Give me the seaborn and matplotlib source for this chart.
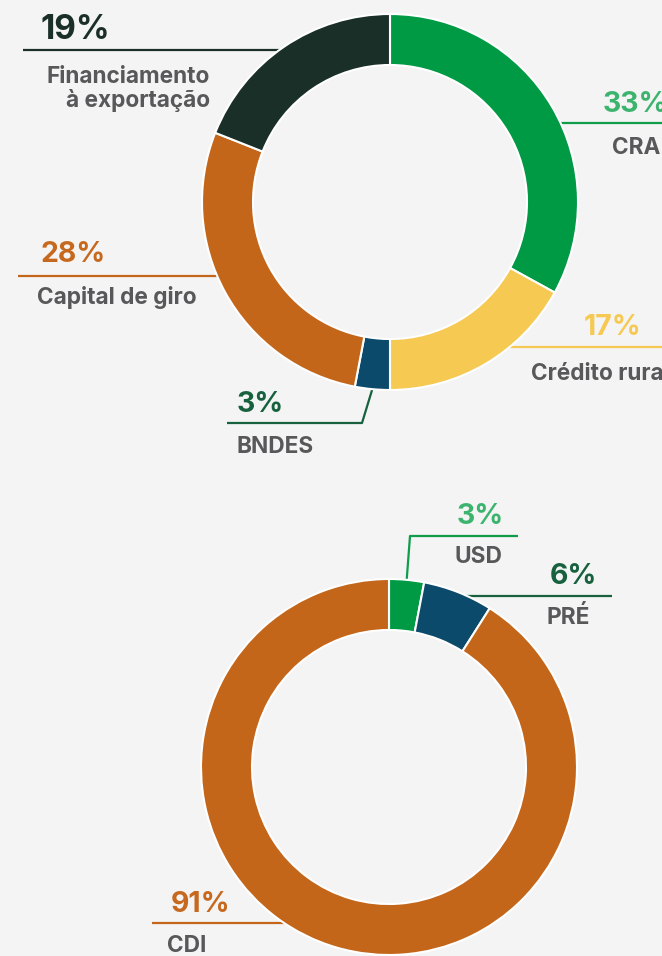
import matplotlib
matplotlib.use("Agg")
import matplotlib.pyplot as plt
import seaborn as sns
import numpy as np

# ---- data -------------------------------------------------------------
top_labels = ["CRA", "Crédito rural", "BNDES", "Capital de giro", "Financiamento\nà exportação"]
top_values = [33, 17, 3, 28, 19]
top_colors = ["#009a44", "#f6c952", "#0b4a6a", "#c4661a", "#1b2f29"]

bottom_labels = ["USD", "PRÉ", "CDI"]
bottom_values = [3, 6, 91]
bottom_colors = ["#009a44", "#0b4a6a", "#c4661a"]

# ---- style ------------------------------------------------------------
W, H = 662, 956
BG = "#f4f4f4"
NAME_COLOR = "#58585a"

sns.set_theme(style="white")
plt.rcParams["font.family"] = ["Inter", "DejaVu Sans"]

fig = plt.figure(figsize=(W / 100, H / 100), dpi=100, facecolor=BG)
ax = fig.add_axes([0, 0, 1, 1])
ax.set_facecolor(BG)

R = 188
RING = 51
top_center = (390, H - 202)
bot_center = (389, H - 767)


def donut(values, colors, center):
    ax.pie(values, colors=colors, startangle=90, counterclock=False,
           center=center, radius=R, frame=False,
           wedgeprops=dict(width=RING, edgecolor="white", linewidth=1.5))


def mid_point(values, i, center):
    frac = (sum(values[:i]) + values[i] / 2) / sum(values)
    ang = np.deg2rad(90 - 360 * frac)
    return center[0] + R * np.cos(ang), center[1] + R * np.sin(ang)


def ring_x(center, y, side):
    dy = y - center[1]
    return center[0] + side * (np.sqrt(R ** 2 - dy ** 2) - 2)


def leader(values, i, center, spec):
    """Leader line from the label to the ring (pixel-style y, top-down)."""
    col = spec["line"]
    if "elbow" in spec:
        x0, x1, yl = spec["elbow"]
        mx, my = mid_point(values, i, center)
        xs = [x0, x1, mx]
        ys = [H - yl, H - yl, my]
    else:
        yl = H - spec["y"]
        side = spec["side"]
        xs = [spec["far"], ring_x(center, yl, side)]
        ys = [yl, yl]
    ax.plot(xs, ys, color=col, lw=1.6, zorder=0.5, solid_capstyle="butt")


def labels(values, names, spec):
    px, py = spec["pct"]
    ax.text(px, H - py, f"{values}%", color=spec["pc"], fontsize=spec.get("ps", 20.5),
            fontweight="bold", ha="left", va="baseline", zorder=3)
    nx, ny = spec["name"]
    ha = spec.get("ha", "left")
    for k, line in enumerate(names.split("\n")):
        ax.text(nx, H - ny - 24 * k, line, color=NAME_COLOR, fontsize=16.3,
                fontweight="bold", ha=ha, va="baseline", zorder=3)


top_layout = [
    dict(y=123, side=1, far=700, line="#0f9d4a", pct=(603, 112), pc="#3cb46e", name=(612, 154)),
    dict(y=347, side=1, far=700, line="#f6c952", pct=(584, 335), pc="#f6c952", name=(531, 380)),
    dict(elbow=(227, 362, 423), line="#17613f", pct=(237, 412), pc="#17613f", name=(237, 453)),
    dict(y=275.5, side=-1, far=18, line="#c4661a", pct=(41, 262), pc="#c6691e", name=(37, 304)),
    dict(y=50, side=-1, far=23, line="#1b2f29", pct=(41, 39), pc="#1b2f29", ps=24,
         name=(210, 83), ha="right"),
]

bottom_layout = [
    dict(elbow=(518, 410, 536), line="#0f9d4a", pct=(457, 524), pc="#3cb46e", name=(454, 563)),
    dict(y=596, side=1, far=612, line="#17613f", pct=(550, 584), pc="#17613f", name=(546, 624)),
    dict(y=923, side=-1, far=152, line="#c4661a", pct=(171, 912), pc="#c6691e", name=(167, 952)),
]

donut(top_values, top_colors, top_center)
donut(bottom_values, bottom_colors, bot_center)

for i, (v, n, s) in enumerate(zip(top_values, top_labels, top_layout)):
    leader(top_values, i, top_center, s)
    labels(v, n, s)

for i, (v, n, s) in enumerate(zip(bottom_values, bottom_labels, bottom_layout)):
    leader(bottom_values, i, bot_center, s)
    labels(v, n, s)

ax.set_xlim(0, W)
ax.set_ylim(0, H)
ax.set_aspect("equal")
ax.axis("off")

fig.savefig("out.png", dpi=100, facecolor=BG)
